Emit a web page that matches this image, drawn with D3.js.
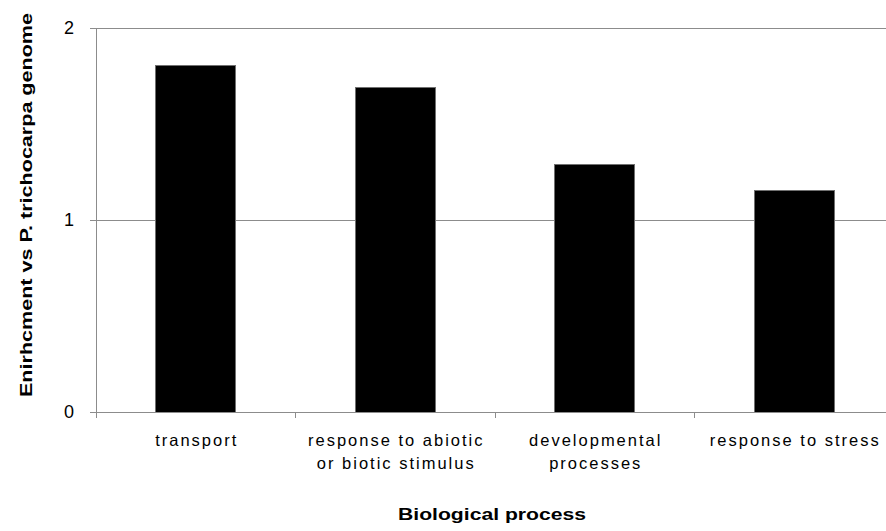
<!DOCTYPE html>
<html>
<head>
<meta charset="utf-8">
<script src="https://cdn.jsdelivr.net/npm/d3@7"></script>
<style>
  html, body { margin: 0; padding: 0; background: #fff; }
  svg { display: block; }
  text { font-family: "Liberation Sans", Arial, sans-serif; fill: #000; }
</style>
</head>
<body>
<svg id="chart" width="886" height="531"></svg>
<script>
const categories = ["transport", "response to abiotic or biotic stimulus", "developmental processes", "response to stress"];
const labelLines = [["transport"], ["response to abiotic", "or biotic stimulus"], ["developmental", "processes"], ["response to stress"]];
const values = [1.806, 1.691, 1.29, 1.156];
const yTicks = [0, 1, 2];
const xTitle = "Biological process";
const yTitle = "Enirhcment vs P. trichocarpa genome";

const svg = d3.select("#chart");
const mLeft = 96, mRight = 894, mTop = 28, mBottom = 412;

const x = d3.scaleBand().domain(categories).range([mLeft, mRight]).paddingInner(0.6).paddingOuter(0.3);
const y = d3.scaleLinear().domain([0, 2]).range([mBottom, mTop]);

// gridlines
svg.append("g").selectAll("line").data(yTicks.filter(d => d > 0)).join("line")
  .attr("x1", mLeft).attr("x2", 886)
  .attr("y1", d => y(d)).attr("y2", d => y(d))
  .attr("stroke", "#8c8c8c").attr("stroke-width", 1).attr("shape-rendering", "crispEdges");

// bars
svg.append("g").selectAll("rect").data(values).join("rect")
  .attr("x", (d, i) => x(categories[i]))
  .attr("y", d => y(d))
  .attr("width", x.bandwidth())
  .attr("height", d => y(0) - y(d))
  .attr("fill", "#000").attr("stroke", "#707070").attr("stroke-width", 1)
  .attr("shape-rendering", "crispEdges");

// y axis
const yAxis = svg.append("g").attr("transform", `translate(${mLeft},0)`)
  .call(d3.axisLeft(y).tickValues(yTicks).tickFormat(d3.format("d")).tickSize(6).tickPadding(16));
yAxis.select(".domain").attr("stroke", "#8c8c8c").attr("shape-rendering", "crispEdges");
yAxis.selectAll(".tick line").attr("stroke", "#8c8c8c").attr("shape-rendering", "crispEdges");
yAxis.selectAll(".tick text").attr("font-size", 18).attr("font-family", "Liberation Sans, Arial").attr("fill", "#222");

// x axis line and ticks at band boundaries
const boundaries = d3.range(categories.length + 1).map(i => mLeft + i * x.step());
const xAxis = svg.append("g");
xAxis.append("line").attr("x1", mLeft).attr("x2", 886).attr("y1", mBottom).attr("y2", mBottom)
  .attr("stroke", "#8c8c8c").attr("shape-rendering", "crispEdges");
xAxis.selectAll("line.tk").data(boundaries).join("line").attr("class", "tk")
  .attr("x1", d => d).attr("x2", d => d).attr("y1", mBottom).attr("y2", mBottom + 6)
  .attr("stroke", "#8c8c8c").attr("shape-rendering", "crispEdges");

// category labels
const lbl = svg.append("g").selectAll("text").data(categories).join("text")
  .attr("text-anchor", "middle")
  .attr("font-size", 16.5)
  .attr("letter-spacing", "2px")
  .attr("fill", "#222");
lbl.each(function(d, i) {
  const t = d3.select(this);
  labelLines[i].forEach((line, j) => {
    t.append("tspan").attr("x", x(d) + x.bandwidth() / 2 + 1).attr("y", 446 + j * 23).text(line);
  });
});

// titles
svg.append("text").attr("x", 492).attr("y", 520).attr("text-anchor", "middle")
  .attr("font-size", 17).attr("font-weight", "bold")
  .attr("textLength", 188).attr("lengthAdjust", "spacingAndGlyphs")
  .text(xTitle);

svg.append("text").attr("transform", "translate(32,205) rotate(-90)").attr("text-anchor", "middle")
  .attr("font-size", 17).attr("font-weight", "bold")
  .attr("textLength", 384).attr("lengthAdjust", "spacingAndGlyphs")
  .text(yTitle);
</script>
</body>
</html>
